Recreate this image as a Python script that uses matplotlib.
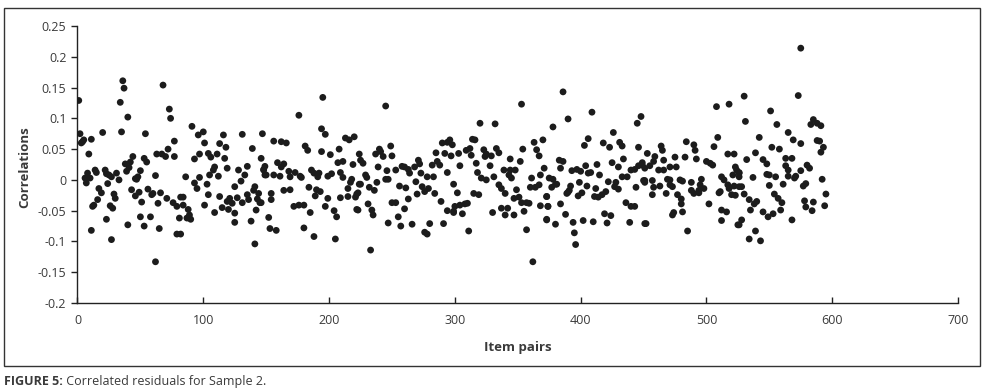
import matplotlib
matplotlib.use("Agg")
import matplotlib.pyplot as plt
from matplotlib.patches import Rectangle
from matplotlib import font_manager

# ---------------- data ----------------
items_a = [1, 2, 3, 4, 5, 11, 9, 20, 36, 37, 34, 40, 35, 54, 68, 73, 74, 44, 42, 41,
           39, 53, 55, 63, 67, 70, 72, 6, 7, 8, 10, 14, 15, 22, 23, 25, 27, 31, 33, 48,
           47, 62, 24, 17, 19, 29, 30, 43, 49, 56, 59, 60, 66, 71, 16, 13, 12, 26, 28, 51,
           64, 23, 50, 58, 11, 27, 62, 40, 46, 53, 65, 38, 46, 50]
corr_a = [0.129, 0.075, 0.060, 0.062, 0.065, 0.066, 0.042, 0.077, 0.161, 0.149, 0.126, 0.102, 0.078, 0.075, 0.154, 0.115, 0.100, 0.038, 0.029, 0.020,
          0.014, 0.035, 0.029, 0.042, 0.042, 0.038, 0.050, 0.003, -0.005, 0.011, 0.003, 0.016, 0.012, 0.016, 0.010, 0.008, 0.005, 0.011, 0.000, 0.005,
          0.001, 0.007, -0.006, -0.014, -0.021, -0.023, -0.030, -0.016, -0.020, -0.015, -0.024, -0.022, -0.021, -0.030, -0.032, -0.041, -0.043, -0.042, -0.046, -0.036,
          -0.038, -0.064, -0.060, -0.060, -0.082, -0.097, -0.133, -0.073, -0.026, -0.075, -0.079, 0.026, 0.002, 0.015]

items_b = [91, 96, 100, 116, 131, 147, 77, 77, 101, 113, 118, 139, 97, 93, 104, 106, 111, 117, 146, 109,
           108, 105, 112, 119, 128, 135, 133, 130, 148, 149, 86, 97, 93, 95, 103, 125, 141, 140, 144, 76,
           79, 82, 84, 84, 88, 89, 90, 87, 81, 104, 113, 101, 109, 115, 121, 123, 127, 120, 119, 125,
           131, 135, 136, 143, 145, 142, 138, 125, 79, 82, 141]
corr_b = [0.087, 0.073, 0.078, 0.073, 0.074, 0.075, 0.063, 0.038, 0.060, 0.059, 0.053, 0.051, 0.042, 0.034, 0.043, 0.037, 0.042, 0.035, 0.035, 0.021,
          0.016, 0.008, 0.006, 0.019, 0.016, 0.022, 0.008, -0.002, 0.016, 0.008, 0.005, 0.004, -0.005, -0.014, -0.007, -0.011, -0.011, -0.017, -0.022, -0.037,
          -0.043, -0.028, -0.028, -0.041, -0.048, -0.057, -0.064, -0.062, -0.062, -0.024, -0.027, -0.041, -0.053, -0.045, -0.030, -0.038, -0.029, -0.048, -0.035, -0.054,
          -0.037, -0.024, -0.032, -0.031, -0.037, -0.049, -0.067, -0.069, -0.088, -0.088, -0.104]

items_c = [195, 176, 156, 162, 166, 194, 197, 213, 216, 220, 181, 183, 194, 201, 208, 207, 211, 219, 159, 164,
           162, 149, 148, 150, 156, 161, 168, 169, 173, 177, 178, 186, 188, 192, 191, 199, 202, 209, 211, 218,
           217, 224, 184, 190, 193, 189, 215, 222, 221, 154, 154, 146, 164, 169, 199, 209, 215, 172, 176, 180,
           197, 204, 206, 185, 223, 152, 153, 158, 180, 188, 205]
corr_c = [0.134, 0.105, 0.063, 0.062, 0.060, 0.083, 0.074, 0.068, 0.065, 0.070, 0.055, 0.048, 0.046, 0.041, 0.050, 0.028, 0.030, 0.025, 0.028, 0.026,
          0.021, 0.022, 0.017, 0.008, 0.008, 0.006, 0.014, 0.005, 0.012, 0.006, 0.004, 0.016, 0.011, 0.011, 0.005, 0.006, 0.010, 0.012, 0.004, 0.001,
          -0.004, -0.007, -0.012, -0.016, -0.019, -0.026, -0.014, -0.023, -0.028, -0.022, -0.032, -0.037, -0.017, -0.016, -0.030, -0.029, -0.027, -0.043, -0.041, -0.041,
          -0.043, -0.050, -0.060, -0.053, -0.049, -0.061, -0.079, -0.082, -0.078, -0.092, -0.096]

items_d = [245, 240, 241, 249, 243, 250, 237, 224, 225, 227, 285, 290, 294, 296, 298, 292, 297, 286, 288, 282,
           294, 239, 246, 253, 258, 260, 263, 264, 268, 271, 272, 273, 278, 283, 229, 230, 225, 223, 222, 232,
           236, 238, 245, 247, 231, 234, 235, 256, 261, 269, 274, 276, 279, 284, 270, 263, 260, 253, 250, 255,
           257, 247, 266, 280, 291, 289, 294, 299, 276, 278, 233]
corr_d = [0.120, 0.050, 0.046, 0.055, 0.038, 0.039, 0.042, 0.042, 0.032, 0.027, 0.044, 0.060, 0.061, 0.065, 0.057, 0.043, 0.039, 0.030, 0.024, 0.024,
          0.012, 0.021, 0.015, 0.016, 0.022, 0.021, 0.017, 0.011, 0.021, 0.032, 0.026, 0.011, 0.005, 0.005, 0.008, 0.004, -0.007, -0.021, -0.048, -0.012,
          -0.017, -0.004, 0.001, 0.001, -0.039, -0.049, -0.057, -0.010, -0.013, -0.003, -0.011, -0.019, -0.014, -0.022, -0.023, -0.031, -0.047, -0.037, -0.037, -0.060,
          -0.075, -0.070, -0.072, -0.071, -0.071, -0.035, -0.050, -0.053, -0.085, -0.088, -0.114]

items_e = [353, 320, 332, 314, 316, 363, 370, 354, 365, 367, 303, 309, 312, 313, 317, 323, 324, 325, 329, 333,
           335, 344, 352, 328, 318, 339, 344, 348, 343, 345, 361, 368, 371, 304, 321, 325, 331, 299, 302, 335,
           337, 340, 349, 360, 364, 367, 375, 315, 319, 347, 351, 353, 359, 357, 373, 368, 374, 300, 304, 308,
           310, 299, 306, 330, 337, 340, 342, 347, 355, 373, 311, 357, 362]
corr_e = [0.123, 0.092, 0.091, 0.066, 0.065, 0.061, 0.065, 0.050, 0.049, 0.039, 0.043, 0.048, 0.051, 0.040, 0.027, 0.049, 0.038, 0.042, 0.039, 0.051,
          0.044, 0.034, 0.030, 0.023, 0.012, 0.016, 0.016, 0.016, 0.008, 0.003, 0.003, 0.008, 0.019, 0.023, 0.003, 0.000, 0.005, -0.007, -0.021, -0.008,
          -0.014, -0.022, -0.016, -0.012, -0.012, -0.008, 0.003, -0.022, -0.024, -0.030, -0.028, -0.037, -0.038, -0.037, -0.027, -0.042, -0.043, -0.043, -0.041, -0.039,
          -0.038, -0.051, -0.055, -0.053, -0.046, -0.057, -0.046, -0.057, -0.051, -0.064, -0.083, -0.081, -0.133]

items_f = [386, 409, 390, 378, 426, 445, 448, 406, 403, 418, 423, 431, 433, 446, 383, 386, 384, 393, 397, 400,
           404, 406, 408, 413, 415, 425, 430, 434, 440, 443, 446, 449, 451, 378, 380, 377, 381, 392, 391, 399,
           405, 412, 422, 428, 427, 433, 437, 430, 444, 451, 373, 374, 384, 389, 390, 398, 401, 411, 414, 417,
           420, 436, 440, 443, 373, 380, 388, 394, 402, 410, 419, 424, 421, 439, 451, 395, 396]
corr_f = [0.143, 0.110, 0.099, 0.086, 0.077, 0.092, 0.103, 0.067, 0.056, 0.060, 0.053, 0.061, 0.055, 0.053, 0.032, 0.030, 0.019, 0.015, 0.017, 0.014,
          0.023, 0.011, 0.012, 0.025, 0.008, 0.028, 0.021, 0.034, 0.016, 0.017, 0.023, 0.028, 0.019, 0.001, -0.007, -0.012, -0.007, -0.010, -0.017, -0.004,
          -0.010, -0.014, -0.003, -0.004, -0.011, 0.005, 0.005, -0.015, -0.012, -0.001, -0.027, -0.043, -0.039, -0.022, -0.020, -0.026, -0.021, -0.027, -0.028, -0.024,
          -0.019, -0.037, -0.043, -0.043, -0.065, -0.072, -0.056, -0.069, -0.066, -0.068, -0.055, -0.058, -0.070, -0.069, -0.071, -0.086, -0.105]

items_g = [508, 518, 484, 490, 491, 509, 506, 464, 465, 453, 459, 458, 466, 475, 483, 492, 500, 503, 505, 517,
           522, 523, 521, 526, 449, 455, 462, 466, 471, 476, 471, 450, 451, 457, 458, 463, 469, 471, 479, 481,
           488, 496, 495, 498, 494, 512, 514, 517, 518, 522, 511, 457, 468, 473, 477, 480, 480, 488, 490, 494,
           502, 510, 520, 526, 474, 473, 481, 512, 516, 512, 525, 452, 485]
corr_g = [0.119, 0.123, 0.062, 0.057, 0.048, 0.069, 0.054, 0.055, 0.048, 0.043, 0.038, 0.030, 0.032, 0.037, 0.037, 0.034, 0.030, 0.027, 0.024, 0.042,
          0.042, 0.021, 0.008, 0.012, 0.024, 0.023, 0.016, 0.016, 0.021, 0.021, 0.000, -0.001, -0.004, -0.001, -0.012, -0.010, 0.001, -0.008, 0.000, -0.002,
          -0.004, 0.001, -0.008, -0.014, -0.017, 0.005, 0.000, -0.008, -0.014, -0.010, -0.019, -0.024, -0.022, -0.011, -0.024, -0.031, -0.039, -0.017, -0.022, -0.021,
          -0.039, -0.021, -0.024, -0.011, -0.053, -0.057, -0.052, -0.049, -0.052, -0.066, -0.073, -0.071, -0.083]

items_h = [575, 530, 573, 551, 531, 556, 585, 583, 588, 591, 542, 565, 569, 575, 588, 590, 593, 591, 552, 558,
           539, 532, 545, 548, 563, 568, 563, 565, 580, 582, 575, 571, 570, 592, 524, 526, 526, 537, 548, 550,
           555, 565, 561, 550, 577, 579, 528, 530, 523, 534, 540, 538, 535, 554, 557, 560, 578, 585, 595, 594,
           579, 584, 545, 553, 549, 559, 568, 528, 526, 539, 534, 543]
corr_h = [0.214, 0.136, 0.137, 0.112, 0.095, 0.090, 0.098, 0.090, 0.092, 0.088, 0.069, 0.077, 0.065, 0.059, 0.064, 0.063, 0.053, 0.045, 0.053, 0.050,
          0.044, 0.033, 0.033, 0.026, 0.035, 0.035, 0.023, 0.016, 0.024, 0.019, 0.015, 0.006, 0.003, 0.001, 0.016, 0.011, 0.005, 0.004, 0.009, 0.008,
          0.005, 0.006, -0.007, -0.009, -0.010, -0.006, -0.011, -0.023, -0.025, -0.032, -0.035, -0.039, -0.049, -0.023, -0.030, -0.037, -0.034, -0.036, -0.023, -0.042,
          -0.044, -0.050, -0.052, -0.055, -0.060, -0.049, -0.065, -0.065, -0.073, -0.083, -0.096, -0.099]

item_pairs = items_a + items_b + items_c + items_d + items_e + items_f + items_g + items_h
correlations = corr_a + corr_b + corr_c + corr_d + corr_e + corr_f + corr_g + corr_h

y_ticks = [-0.2, -0.15, -0.1, -0.05, 0, 0.05, 0.1, 0.15, 0.2, 0.25]
y_tick_labels = ["-0.2", "-0.15", "-0.1", "-0.05", "0", "0.05", "0.1", "0.15", "0.2", "0.25"]
x_ticks = [0, 100, 200, 300, 400, 500, 600, 700]
x_tick_labels = ["0", "100", "200", "300", "400", "500", "600", "700"]

# ---------------- style ----------------
avail = {f.name for f in font_manager.fontManager.ttflist}
fam = [f for f in ["Liberation Sans Narrow", "Open Sans", "DejaVu Sans"] if f in avail]
plt.rcParams["font.family"] = fam
plt.rcParams["axes.unicode_minus"] = False

TEXT = "#3a3a3a"
DOT = "#1c1c1c"

fig = plt.figure(figsize=(9.86, 3.92), dpi=100)
ax = fig.add_axes([0.0786, 0.227, 0.8930, 0.7067])

ax.scatter(item_pairs, correlations, s=24, color=DOT, edgecolors="none", zorder=3)

ax.set_xlim(0, 700)
ax.set_ylim(-0.2, 0.25)
ax.set_yticks(y_ticks)
ax.set_yticklabels(y_tick_labels)
ax.set_xticks(x_ticks)
ax.set_xticklabels(x_tick_labels)

for s in ["top", "right"]:
    ax.spines[s].set_visible(False)
for s in ["left", "bottom"]:
    ax.spines[s].set_color("#222222")
    ax.spines[s].set_linewidth(1.0)

ax.tick_params(axis="y", direction="out", length=4, width=1, color="#222222",
               labelsize=9, labelcolor=TEXT, pad=4)
ax.tick_params(axis="x", direction="in", length=4, width=1, color="#222222",
               labelsize=9, labelcolor=TEXT, pad=8)

ax.set_ylabel("Correlations", fontsize=9.5, fontweight="bold", color=TEXT)
ax.yaxis.set_label_coords(-0.060, 0.49)
ax.set_xlabel("Item pairs", fontsize=9.5, fontweight="bold", color=TEXT)
ax.xaxis.set_label_coords(0.5, -0.159)
ax.xaxis.label.set_va("center")
ax.yaxis.label.set_va("center")

# outer frame
fig.patches.append(Rectangle((0.004, 0.066), 0.990, 0.914, transform=fig.transFigure,
                             fill=False, edgecolor="#333333", linewidth=1.0))

# caption
t1 = fig.text(0.004, 0.026, "FIGURE 5:", fontsize=9, fontweight="bold", color=TEXT, va="center")
fig.canvas.draw()
bb = t1.get_window_extent(renderer=fig.canvas.get_renderer())
x_next = bb.x1 / fig.bbox.width
fig.text(x_next, 0.026, " Correlated residuals for Sample 2.", fontsize=9, color=TEXT, va="center")

fig.savefig("out.png", dpi=100)
